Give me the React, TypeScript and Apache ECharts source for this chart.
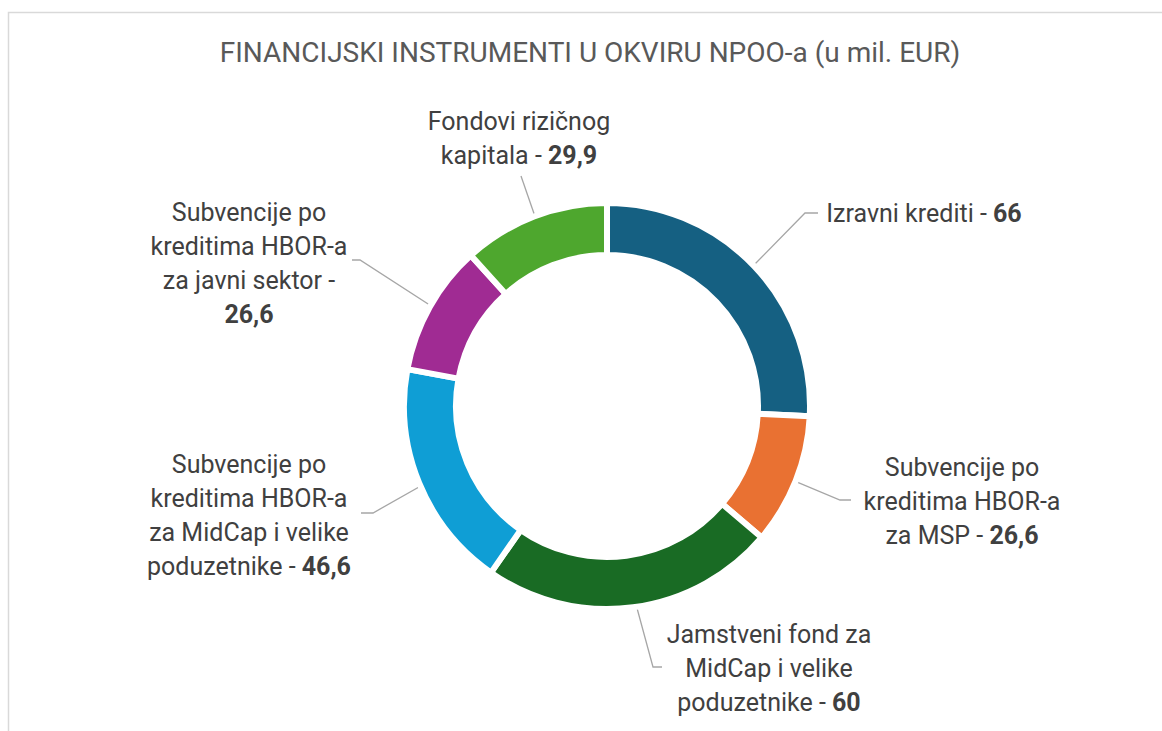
import React, { useEffect, useRef } from "react";
import * as echarts from "echarts";

const titleText = "FINANCIJSKI INSTRUMENTI U OKVIRU NPOO-a (u mil. EUR)";

const categories = [
  "Izravni krediti",
  "Subvencije po\nkreditima HBOR-a\nza MSP",
  "Jamstveni fond za\nMidCap i velike\npoduzetnike",
  "Subvencije po\nkreditima HBOR-a\nza MidCap i velike\npoduzetnike",
  "Subvencije po\nkreditima HBOR-a\nza javni sektor",
  "Fondovi rizičnog\nkapitala",
];

const values = [66, 26.6, 60, 46.6, 26.6, 29.9];

const colors = ["#156082", "#E97132", "#196B24", "#0F9ED5", "#A02B93", "#4EA72E"];

// label layout (positions of label blocks and leader line bends)
const labelLayouts = [
  { x: 924, y: 213, elbow: [805, 213], end: [818, 213] },
  { x: 962, y: 501, elbow: [840, 500], end: [851, 500] },
  { x: 769, y: 668, elbow: [653, 667], end: [662, 667] },
  { x: 249, y: 515, elbow: [373, 513], end: [361, 513] },
  { x: 249, y: 263, elbow: [360, 260], end: [352, 260] },
  { x: 519, y: 138, elbow: [521, 176], end: [521, 176] },
];

const CX = 607;
const CY = 406;
const R_IN = 151;
const R_OUT = 203;
const R_LINE = 177;
const FONT = "Roboto, 'Noto Sans', sans-serif";

const fmtValue = (v: number) => String(v).replace(".", ",");

export default function App() {
  const ref = useRef<HTMLDivElement>(null);

  useEffect(() => {
    if (!ref.current) return;
    const chart = echarts.init(ref.current, null, { renderer: "svg" });
    const total = values.reduce((a, b) => a + b, 0);

    chart.setOption({
      animation: false,
      backgroundColor: "#ffffff",
      title: {
        text: titleText,
        left: 590,
        top: 34,
        textAlign: "center",
        padding: 0,
        textStyle: {
          fontFamily: FONT,
          fontSize: 28,
          fontWeight: "normal",
          color: "#595959",
          lineHeight: 36,
        },
      },
      graphic: [
        {
          type: "rect",
          shape: { x: 8.5, y: 12.5, width: 1300, height: 900 },
          style: { fill: "none", stroke: "#d9d9d9", lineWidth: 1.5 },
          silent: true,
          z: -10,
        },
      ],
      series: [
        {
          type: "pie",
          center: [CX, CY],
          radius: [R_IN, R_OUT],
          startAngle: 90,
          clockwise: true,
          silent: true,
          avoidLabelOverlap: false,
          itemStyle: { borderColor: "#ffffff", borderWidth: 6 },
          data: categories.map((name, i) => ({
            name,
            value: values[i],
            itemStyle: { color: colors[i] },
          })),
          label: {
            show: true,
            position: "outside",
            fontFamily: FONT,
            fontSize: 25,
            lineHeight: 34,
            color: "#404040",
            formatter: (p: any) => {
              const v = fmtValue(p.value);
              const lines = String(p.name).split("\n");
              const last = lines[lines.length - 1];
              if ((last + " - " + v).length > 20) {
                return `{n|${p.name} -}\n{b|${v}}`;
              }
              return `{n|${p.name} - }{b|${v}}`;
            },
            rich: {
              n: { fontFamily: FONT, fontSize: 25, lineHeight: 34, color: "#404040" },
              b: { fontFamily: FONT, fontSize: 25, lineHeight: 34, color: "#404040", fontWeight: "bold" },
            },
          },
          labelLine: {
            show: true,
            smooth: false,
            length: 10,
            length2: 10,
            lineStyle: { color: "#a6a6a6", width: 1.3 },
          },
          labelLayout: (params: any) => {
            const i = params.dataIndex;
            const L = labelLayouts[i];
            let cum = 0;
            for (let k = 0; k < i; k++) cum += values[k];
            const mid = ((cum + values[i] / 2) / total) * Math.PI * 2;
            const sx = CX + R_LINE * Math.sin(mid);
            const sy = CY - R_LINE * Math.cos(mid);
            return {
              x: L.x,
              y: L.y,
              align: "center",
              verticalAlign: "middle",
              labelLinePoints: [[sx, sy], L.elbow, L.end],
            };
          },
        },
      ],
    });

    return () => chart.dispose();
  }, []);

  return (
    <div
      ref={ref}
      style={{ position: "absolute", left: 0, top: 0, width: 1162, height: 731 }}
    />
  );
}
